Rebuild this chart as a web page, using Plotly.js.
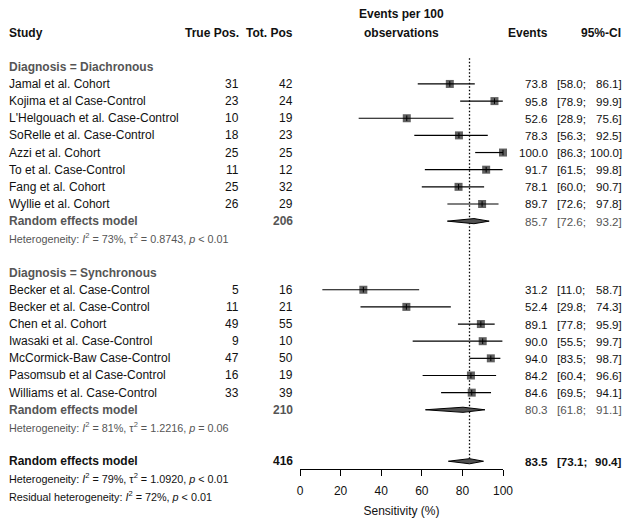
<!DOCTYPE html>
<html>
<head>
<meta charset="utf-8">
<script src="https://cdn.plot.ly/plotly-3.0.1.min.js"></script>
<style>html,body{margin:0;padding:0;background:#fff}#chart{width:630px;height:524px}</style>
</head>
<body>
<div id="chart"></div>
<script>
// ---------- data ----------
const studies1 = ["Jamal et al. Cohort","Kojima et al Case-Control","L'Helgouach et al. Case-Control","SoRelle et al. Case-Control","Azzi et al. Cohort","To et al. Case-Control","Fang et al. Cohort","Wyllie et al. Cohort"];
const tp1  = [31,23,10,18,25,11,25,26];
const tot1 = [42,24,19,23,25,12,32,29];
const est1 = [73.8,95.8,52.6,78.3,100.0,91.7,78.1,89.7];
const lo1  = [58.0,78.9,28.9,56.3,86.3,61.5,60.0,72.6];
const hi1  = [86.1,99.9,75.6,92.5,100.0,99.8,90.7,97.8];

const studies2 = ["Becker et al. Case-Control","Becker et al. Case-Control","Chen et al. Cohort","Iwasaki et al. Case-Control","McCormick-Baw Case-Control","Pasomsub et al Case-Control","Williams et al. Case-Control"];
const tp2  = [5,11,49,9,47,16,33];
const tot2 = [16,21,55,10,50,19,39];
const est2 = [31.2,52.4,89.1,90.0,94.0,84.2,84.6];
const lo2  = [11.0,29.8,77.8,55.5,83.5,60.4,69.5];
const hi2  = [58.7,74.3,95.9,99.7,98.7,96.6,94.1];

const groupLabels = ["Diagnosis = Diachronous","Diagnosis = Synchronous"];
const summaryEst = [85.7, 80.3, 83.5];
const summaryLo  = [72.6, 61.8, 73.1];
const summaryHi  = [93.2, 91.1, 90.4];
const summaryN   = [206, 210, 416];
const hetText = [
  "Heterogeneity: <i>I</i><sup>2</sup> = 73%, τ<sup>2</sup> = 0.8743, <i>p</i> &lt; 0.01",
  "Heterogeneity: <i>I</i><sup>2</sup> = 81%, τ<sup>2</sup> = 1.2216, <i>p</i> = 0.06",
  "Heterogeneity: <i>I</i><sup>2</sup> = 79%, τ<sup>2</sup> = 1.0920, <i>p</i> &lt; 0.01",
  "Residual heterogeneity: <i>I</i><sup>2</sup> = 72%, <i>p</i> &lt; 0.01"
];
const xTicks = [0,20,40,60,80,100];

// ---------- layout rows ----------
const rowsStudies1 = studies1.map((_, i) => 3 + i);
const rowsStudies2 = studies2.map((_, i) => 15 + i);
const rowsSummary = [11, 22, 25];
const rowsHet = [12, 23, 26, 27];
const rowsGroup = [2, 14];

const FONT = "Liberation Sans, Arial, Helvetica, sans-serif";
const GRAY = "#555555";
const BLACK = "#111111";
const W = 630;
const px = v => v / W;

const allRows = rowsStudies1.concat(rowsStudies2);
const allEst = est1.concat(est2);
const allLo = lo1.concat(lo2);
const allHi = hi1.concat(hi2);

const traces = [];
// reference dotted line at overall estimate
traces.push({x:[summaryEst[2], summaryEst[2]], y:[1.5, 25], mode:'lines', type:'scatter',
  line:{color:'#000', width:1.3, dash:'1.5px,2px'}, hoverinfo:'skip', showlegend:false});
// squares
traces.push({x: allEst, y: allRows, mode:'markers', type:'scatter',
  marker:{symbol:'square', size:8, color:'#606060', line:{width:0}}, cliponaxis:false,
  hoverinfo:'skip', showlegend:false});
// CI lines
const cx = [], cy = [];
allRows.forEach((r, i) => { cx.push(allLo[i], allHi[i], null); cy.push(r, r, null); });
traces.push({x: cx, y: cy, mode:'lines', type:'scatter', line:{color:'#000', width:1.2},
  hoverinfo:'skip', showlegend:false});
// centre ticks
traces.push({x: allEst, y: allRows, mode:'markers', type:'scatter',
  marker:{symbol:'line-ns', size:4, line:{width:1, color:'#000'}}, cliponaxis:false,
  hoverinfo:'skip', showlegend:false});
// diamonds
const h = 0.15;
summaryEst.forEach((e, i) => {
  const r = rowsSummary[i];
  traces.push({x:[summaryLo[i], e, summaryHi[i], e, summaryLo[i]], y:[r, r - h, r, r + h, r],
    mode:'lines', type:'scatter', fill:'toself', fillcolor:'#505050',
    line:{color:'#000', width:1}, hoverinfo:'skip', showlegend:false});
});

// ---------- text annotations ----------
const ann = [];
function t(text, xpx, row, anchor, opts) {
  opts = opts || {};
  ann.push({text: text, x: px(xpx), xref:'paper', y: row, yref:'y', xanchor: anchor, yanchor:'middle',
    showarrow:false, borderpad:0, borderwidth:0,
    font:{family:FONT, size: opts.size || 12, color: opts.color || BLACK}});
}
// headers
t("<b>Study</b>", 9, 0, 'left');
t("<b>True Pos.</b>", 239, 0, 'right');
t("<b>Tot. Pos</b>", 292.5, 0, 'right');
t("<b>Events per 100</b>", 401.5, -1.05, 'center');
t("<b>observations</b>", 401.5, 0, 'center');
t("<b>Events</b>", 548, 0, 'right');
t("<b>95%-CI</b>", 621, 0, 'right');

function ciCells(e, lo, hi, row, color, bold) {
  const b = s => bold ? "<b>" + s + "</b>" : s;
  const sz = bold ? 11.6 : 11.6;
  t(b(e.toFixed(1)), 548, row, 'right', {color, size: sz});
  t(b("[" + lo.toFixed(1) + ";"), 556.5, row, 'left', {color, size: sz});
  t(b(hi.toFixed(1) + "]"), 621.5, row, 'right', {color, size: sz});
}
// group headers
groupLabels.forEach((g, i) => t("<b>" + g + "</b>", 9, rowsGroup[i], 'left', {color: GRAY}));
// studies
studies1.forEach((s, i) => {
  const r = rowsStudies1[i];
  t(s, 9, r, 'left'); t(String(tp1[i]), 239, r, 'right'); t(String(tot1[i]), 292.5, r, 'right');
  ciCells(est1[i], lo1[i], hi1[i], r, BLACK, false);
});
studies2.forEach((s, i) => {
  const r = rowsStudies2[i];
  t(s, 9, r, 'left'); t(String(tp2[i]), 239, r, 'right'); t(String(tot2[i]), 292.5, r, 'right');
  ciCells(est2[i], lo2[i], hi2[i], r, BLACK, false);
});
// summaries
[0, 1].forEach(i => {
  const r = rowsSummary[i];
  t("<b>Random effects model</b>", 9, r, 'left', {color: GRAY});
  t("<b>" + summaryN[i] + "</b>", 292.5, r, 'right', {color: GRAY});
  ciCells(summaryEst[i], summaryLo[i], summaryHi[i], r, GRAY, false);
  t(hetText[i], 9, rowsHet[i], 'left', {color: GRAY, size: 10.8});
});
t("<b>Random effects model</b>", 9, rowsSummary[2], 'left');
t("<b>" + summaryN[2] + "</b>", 292.5, rowsSummary[2], 'right');
ciCells(summaryEst[2], summaryLo[2], summaryHi[2], rowsSummary[2], BLACK, true);
t(hetText[2], 9, rowsHet[2], 'left', {size: 10.8});
t(hetText[3], 9, rowsHet[3], 'left', {size: 10.8});

const layout = {
  width: 630, height: 524,
  margin: {l:0, r:0, t:0, b:0},
  paper_bgcolor:'#fff', plot_bgcolor:'rgba(0,0,0,0)',
  showlegend:false,
  font:{family:FONT, size:12, color:BLACK},
  xaxis: {domain:[300/630, 503/630], range:[0,100], anchor:'free', position: 1 - 469/524,
    showline:true, linecolor:'#000', linewidth:1, ticks:'outside', ticklen:6, tickwidth:1, tickcolor:'#000',
    tickvals: xTicks, ticktext: xTicks.map(String), showgrid:false, zeroline:false,
    tickfont:{family:FONT, size:12, color:BLACK}, ticklabelstandoff: 5,
    title:{text:'Sensitivity (%)', font:{family:FONT, size:12, color:BLACK}, standoff: 9},
    fixedrange:true},
  yaxis: {domain:[0,1], range:[28.66, -1.895], visible:false, showgrid:false, zeroline:false, fixedrange:true},
  annotations: ann
};
Plotly.newPlot('chart', traces, layout, {displayModeBar:false, staticPlot:true});
</script>
</body>
</html>
